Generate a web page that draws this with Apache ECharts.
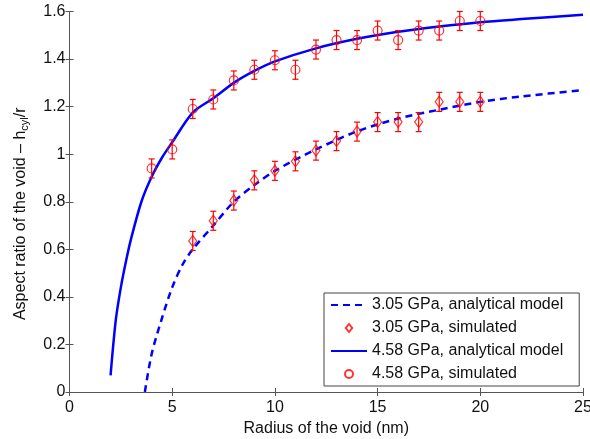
<!DOCTYPE html>
<html>
<head>
<meta charset="utf-8">
<script src="https://cdn.jsdelivr.net/npm/echarts@6/dist/echarts.min.js"></script>
<style>
html, body { margin: 0; padding: 0; background: #fff; }
#chart { width: 590px; height: 439px; }
</style>
</head>
<body>
<div id="chart"></div>
<script>
// simulated points, 4.58 GPa (circles)
var radiusHigh = [4, 5, 6, 7, 8, 9, 10, 11, 12, 13, 14, 15, 16, 17, 18, 19, 20];
var ratioHigh = [0.94, 1.02, 1.19, 1.23, 1.31, 1.355, 1.395, 1.355, 1.44, 1.48, 1.48, 1.52, 1.48, 1.52, 1.52, 1.56, 1.56];
// simulated points, 3.05 GPa (diamonds)
var radiusLow = [6, 7, 8, 9, 10, 11, 12, 13, 14, 15, 16, 17, 18, 19, 20];
var ratioLow = [0.635, 0.72, 0.805, 0.89, 0.93, 0.97, 1.015, 1.055, 1.095, 1.135, 1.135, 1.135, 1.22, 1.22, 1.22];
var errHalf = 0.04;

// analytical model curves
var modelHighR = [2, 2.25, 2.5, 2.75, 3, 3.5, 4, 4.5, 5, 6, 7, 8, 9, 10, 12, 14, 16, 18, 20, 22, 25];
var modelHighY = [0.07, 0.3, 0.44, 0.55, 0.645, 0.8, 0.905, 0.985, 1.05, 1.175, 1.235, 1.3, 1.35, 1.39, 1.445, 1.485, 1.515, 1.537, 1.555, 1.568, 1.586];
var modelLowR = [3.67, 4, 4.5, 5, 5.5, 6, 7, 8, 9, 10, 12, 14, 16, 18, 20, 22, 25];
var modelLowY = [0, 0.16, 0.31, 0.44, 0.535, 0.6, 0.7, 0.8, 0.87, 0.93, 1.02, 1.096, 1.15, 1.187, 1.22, 1.243, 1.269];

var names = ['3.05 GPa, analytical model', '3.05 GPa, simulated',
             '4.58 GPa, analytical model', '4.58 GPa, simulated'];

function pairs(xs, ys) {
	var out = [];
	for (var i = 0; i < xs.length; i++) {
		out.push([xs[i], ys[i]]);
	}
	return out;
}

function errData(xs, ys) {
	var out = [];
	for (var i = 0; i < xs.length; i++) {
		out.push([xs[i], ys[i] - errHalf, ys[i] + errHalf]);
	}
	return out;
}

function renderErr(params, api) {
	var x = api.value(0);
	var lo = api.coord([x, api.value(1)]);
	var hi = api.coord([x, api.value(2)]);
	var w = 3;
	var st = { stroke: '#ff0000', fill: null, lineWidth: 1.2 };
	return {
		type: 'group',
		children: [
			{ type: 'line', shape: { x1: lo[0], y1: lo[1], x2: hi[0], y2: hi[1] }, style: st },
			{ type: 'line', shape: { x1: lo[0] - w, y1: lo[1], x2: lo[0] + w, y2: lo[1] }, style: st },
			{ type: 'line', shape: { x1: hi[0] - w, y1: hi[1], x2: hi[0] + w, y2: hi[1] }, style: st }
		]
	};
}

var axisColor = '#555';
var font = 'Liberation Sans, Arial, sans-serif';
var clear = 'rgba(0,0,0,0)';

var myChart = echarts.init(document.getElementById('chart'));
var option = {
	animation: false,
	textStyle: { fontFamily: font },
	grid: {
		left: 69.5, right: 7, top: 11.5, bottom: 47,
		outerBoundsMode: 'none'
	},
	legend: {
		orient: 'vertical',
		left: 324, top: 293,
		padding: [4, 16, 4, 6],
		itemWidth: 36, itemHeight: 8, itemGap: 7,
		symbolKeepAspect: true,
		borderColor: '#444', borderWidth: 1,
		backgroundColor: '#fff',
		textStyle: { fontSize: 16, color: '#111', fontFamily: font },
		data: [
			{ name: names[0] },
			{ name: names[1], icon: 'path://M4,0 L8,5 L4,10 L0,5 Z' },
			{ name: names[2] },
			{ name: names[3], icon: 'circle' }
		]
	},
	xAxis: [{
		type: 'value', min: 0, max: 25, interval: 5,
		name: 'Radius of the void (nm)',
		nameLocation: 'middle', nameGap: 23,
		nameTextStyle: { fontSize: 16, color: '#111' },
		axisLine: { lineStyle: { color: axisColor } },
		axisTick: { inside: true, length: 4, lineStyle: { color: axisColor } },
		axisLabel: { fontSize: 16, color: '#111', margin: 8 },
		splitLine: { show: false }
	}, {
		type: 'value', min: 0, max: 25, interval: 5, position: 'top',
		axisLine: { lineStyle: { color: axisColor } },
		axisTick: { inside: true, length: 4, lineStyle: { color: axisColor } },
		axisLabel: { show: false },
		splitLine: { show: false }
	}],
	yAxis: [{
		type: 'value', min: 0, max: 1.6, interval: 0.2,
		name: 'Aspect ratio of the void \u2013 h{sub|cyl}/r',
		nameLocation: 'middle', nameGap: 39,
		nameTextStyle: {
			fontSize: 16, color: '#111', lineHeight: 20,
			padding: [0, 24, 0, 0],
			rich: { sub: { fontSize: 11, color: '#111', lineHeight: 20, verticalAlign: 'bottom' } }
		},
		axisLine: { show: true, lineStyle: { color: axisColor } },
		axisTick: { inside: true, length: 4, lineStyle: { color: axisColor } },
		axisLabel: { fontSize: 16, color: '#111', margin: 4 },
		splitLine: { show: false }
	}, {
		type: 'value', min: 0, max: 1.6, interval: 0.2, position: 'right',
		axisLine: { show: true, lineStyle: { color: axisColor } },
		axisTick: { inside: true, length: 4, lineStyle: { color: axisColor } },
		axisLabel: { show: false },
		splitLine: { show: false }
	}],
	series: [{
		name: names[0],
		type: 'line',
		data: pairs(modelLowR, modelLowY),
		symbol: 'none',
		smooth: 0.3,
		lineStyle: { color: '#0000ff', width: 2.5, type: [7, 5] },
		itemStyle: { color: clear, borderWidth: 0 },
		z: 2
	}, {
		name: names[2],
		type: 'line',
		data: pairs(modelHighR, modelHighY),
		symbol: 'none',
		smooth: 0.3,
		lineStyle: { color: '#0000ff', width: 2.5 },
		itemStyle: { color: clear, borderWidth: 0 },
		z: 2
	}, {
		type: 'custom',
		renderItem: renderErr,
		data: errData(radiusLow, ratioLow),
		z: 3
	}, {
		type: 'custom',
		renderItem: renderErr,
		data: errData(radiusHigh, ratioHigh),
		z: 3
	}, {
		name: names[1],
		type: 'scatter',
		data: pairs(radiusLow, ratioLow),
		symbol: 'diamond', symbolSize: [8, 11],
		itemStyle: { color: clear, borderColor: '#ff0000', borderWidth: 1.2 },
		z: 4
	}, {
		name: names[3],
		type: 'scatter',
		data: pairs(radiusHigh, ratioHigh),
		symbol: 'circle', symbolSize: 9,
		itemStyle: { color: clear, borderColor: '#ff0000', borderWidth: 1.2 },
		z: 4
	}]
};
myChart.setOption(option);
</script>
</body>
</html>
